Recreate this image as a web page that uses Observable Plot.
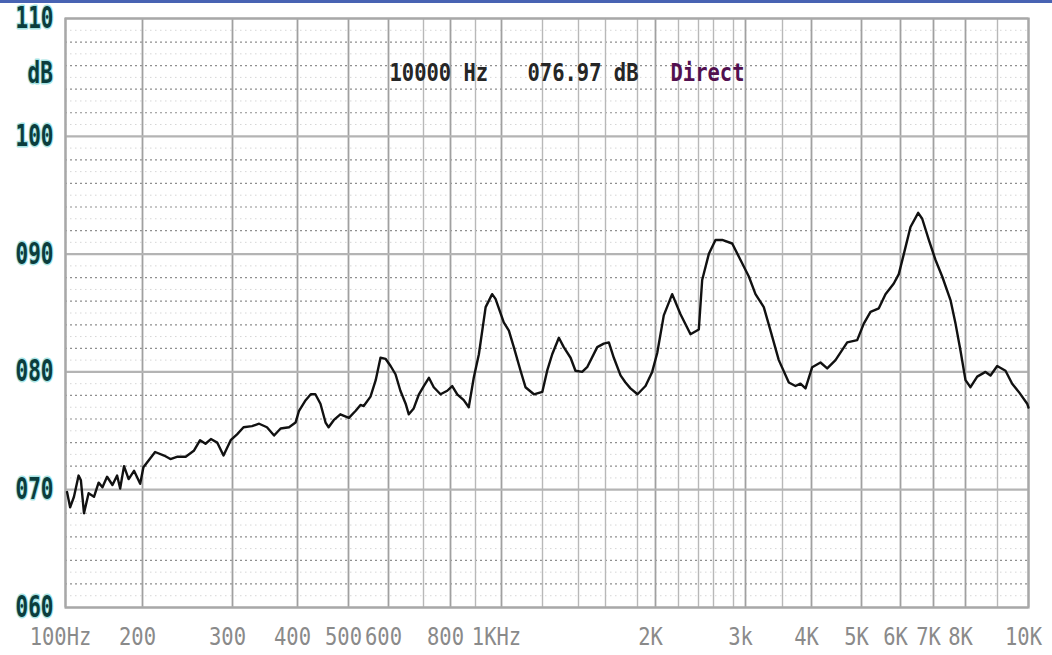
<!DOCTYPE html>
<html>
<head>
<meta charset="utf-8">
<script src="https://cdn.jsdelivr.net/npm/d3@7"></script>
<script src="https://cdn.jsdelivr.net/npm/@observablehq/plot@0.6"></script>
<style>
  html, body { margin: 0; padding: 0; background: #ffffff; }
  #wrap { position: relative; width: 1052px; height: 655px; overflow: hidden; }
  #topbar { position: absolute; left: 0; top: 0; width: 1052px; height: 3px; background: #4863b3; }
  svg { display: block; }
</style>
</head>
<body>
<div id="wrap"><div id="topbar"></div></div>
<script>
// ---- data ----
const freqHz = [102,106,111,117,120,124,130,137,143,148,154,161,167,171,176,182,189,197,201,207,214,224,231,239,248,257,264,270,276,283,290,298,307,317,330,341,353,364,374,387,397,403,416,426,435,445,455,461,471,484,501,518,530,538,555,568,580,593,606,620,634,649,658,672,687,701,720,738,763,788,807,827,853,873,893,913,939,964,977,1011,1036,1060,1093,1117,1158,1199,1226,1254,1291,1318,1356,1383,1427,1464,1539,1587,1621,1652,1694,1725,1756,1800,1889,1963,2015,2072,2145,2220,2320,2404,2449,2537,2620,2687,2787,2917,3045,3135,3247,3338,3450,3609,3724,3810,3897,4014,4180,4314,4480,4714,4914,5059,5231,5444,5615,5828,5956,6100,6303,6536,6658,6858,7063,7272,7531,7688,7844,8000,8156,8366,8625,8781,8991,9258,9474,9687,9958,10000];
const levelDb = [69.8,68.5,69.4,71.2,70.8,68.0,69.7,69.4,70.6,70.2,71.1,70.4,71.2,70.1,72.0,70.9,71.6,70.5,71.9,72.5,73.2,72.9,72.6,72.8,72.8,73.3,74.2,73.9,74.3,74.0,72.9,74.2,74.7,75.3,75.4,75.6,75.3,74.6,75.2,75.3,75.7,76.7,77.6,78.1,78.1,77.3,75.7,75.3,75.9,76.4,76.1,76.7,77.2,77.1,77.9,79.3,81.2,81.1,80.5,79.8,78.4,77.3,76.4,76.9,78.1,78.8,79.5,78.7,78.1,78.4,78.8,78.1,77.6,77.0,79.5,81.5,85.5,86.6,86.2,84.2,83.5,82.1,80.1,78.7,78.1,78.3,80.1,81.5,82.9,82.1,81.2,80.1,80.0,80.4,82.1,82.4,82.5,81.2,79.7,79.1,78.6,78.1,78.8,80.0,81.6,84.8,86.6,84.9,83.2,83.6,87.8,90.0,91.2,91.2,90.9,89.5,88.1,86.6,85.5,83.5,81.0,79.1,78.8,79.0,78.6,80.4,80.8,80.3,81.0,82.5,82.7,84.1,85.1,85.4,86.6,87.5,88.3,90.0,92.3,93.5,93.0,91.2,89.5,88.1,86.1,84.1,81.8,79.3,78.7,79.6,80.0,79.7,80.5,80.1,79.0,78.3,77.3,76.97];

// vertical grid frequencies of the analyser screen
const gridHz = [100,200,300,400,500,600,700,800,900,1000,1200,1400,1600,1800,2000,2200,2400,2600,2800,3000,3500,4000,5000,6000,7000,8000,9000,10000];
// labelled frequencies
const tickHz = [100,200,300,400,500,600,800,1000,2000,3000,4000,5000,6000,7000,8000,10000];
const tickLabels = ["100Hz","200","300","400","500","600","800","1KHz","2K","3k","4K","5K","6K","7K","8K","10K"];
// level grid
const dbMajor = [60,70,80,90,100,110];
const dbLabels = ["060","070","080","090","100","110"];
const dbEven = [62,64,66,68,72,74,76,78,82,84,86,88,92,94,96,98,102,104,106,108];
const dbOdd = [61,63,65,67,69,71,73,75,77,79,81,83,85,87,89,91,93,95,97,99,101,103,105,107,109];
const modeLabel = "Direct";

const points = freqHz.map((f, i) => ({f, db: levelDb[i]}));
const last = points[points.length - 1];
const ticks = tickHz.map((f, i) => ({f, label: tickLabels[i]}));
const yticks = dbMajor.map((v, i) => ({v, label: dbLabels[i]}));

const MONO = "'DejaVu Sans Mono', 'Liberation Mono', monospace";

const svg = Plot.plot({
  width: 1052,
  height: 655,
  marginLeft: 65,
  marginRight: 24,
  marginTop: 18,
  marginBottom: 48,
  style: {background: "transparent", fontFamily: MONO},
  x: {
    type: "linear",
    domain: gridHz,
    range: [65,142,232,297,348,388,423,450,475,501,542,578,605,637,655,678,698,713,733,745,782,811,861,900,933,965,997,1028],
    axis: null
  },
  y: {domain: [60, 110], axis: null},
  marks: [
    Plot.ruleY(dbOdd, {stroke: "#d6d6d6", strokeWidth: 1, strokeDasharray: "1.5,3.5"}),
    Plot.ruleY(dbEven, {stroke: "#8f8f8f", strokeWidth: 1.2, strokeDasharray: "2,3"}),
    Plot.ruleX(gridHz.filter(f => !tickHz.includes(f)), {stroke: "#b8b8b8", strokeWidth: 1.4}),
    Plot.ruleX(tickHz, {stroke: "#a0a0a0", strokeWidth: 1.8}),
    Plot.ruleY(dbMajor, {stroke: "#b4b4b4", strokeWidth: 2.2}),
    Plot.frame({stroke: "#a8a8a8", strokeWidth: 2.2}),
    Plot.line(points, {x: "f", y: "db", stroke: "#111", strokeWidth: 2.4, strokeLinejoin: "round"}),
    // y labels
    Plot.text(yticks, {y: "v", text: "label", frameAnchor: "left", lineAnchor: "middle", dx: -31, textAnchor: "middle",
      fill: "#0b3d3d", stroke: "#a6e4e4", strokeWidth: 2, paintOrder: "stroke", fontSize: 21, fontWeight: "bold"}),
    Plot.text(["dB"], {frameAnchor: "top-left", lineAnchor: "middle", dx: -38, dy: 55, textAnchor: "start",
      fill: "#0b3d3d", stroke: "#a6e4e4", strokeWidth: 2, paintOrder: "stroke", fontSize: 21, fontWeight: "bold"}),
    // x labels
    Plot.text(ticks, {x: "f", text: "label", frameAnchor: "bottom", lineAnchor: "middle", dy: 30, dx: -5, textAnchor: "middle",
      fill: "#8a8a8a", fontSize: 20.5}),
    // header readout
    Plot.text([`${last.f} Hz`], {frameAnchor: "top-left", lineAnchor: "middle", dx: 324, dy: 55, textAnchor: "start",
      fill: "#262626", fontSize: 20.5, fontWeight: "bold"}),
    Plot.text([`${d3.format("06.2f")(last.db)} dB`], {frameAnchor: "top-left", lineAnchor: "middle", dx: 462, dy: 55, textAnchor: "start",
      fill: "#262626", fontSize: 20.5, fontWeight: "bold"}),
    Plot.text([modeLabel], {frameAnchor: "top-left", lineAnchor: "middle", dx: 605, dy: 55, textAnchor: "start",
      fill: "#52104f", fontSize: 20.5, fontWeight: "bold"})
  ]
});

// stretch the text vertically to mimic the tall DOS screen font
function stretch(sel, k) {
  sel.each(function () {
    const t = this.getAttribute("transform");
    if (t) {
      this.setAttribute("transform", t + ` scale(1,${k})`);
    } else {
      const x = +this.getAttribute("x") || 0, y = +this.getAttribute("y") || 0;
      this.setAttribute("x", 0); this.setAttribute("y", 0);
      this.setAttribute("transform", `translate(${x},${y}) scale(1,${k})`);
    }
  });
}
const root = d3.select(svg);
stretch(root.selectAll('g[fill="#0b3d3d"] text'), 1.4);
stretch(root.selectAll('g:not([fill="#0b3d3d"]) > text'), 1.18);

document.getElementById("wrap").appendChild(svg);
</script>
</body>
</html>
